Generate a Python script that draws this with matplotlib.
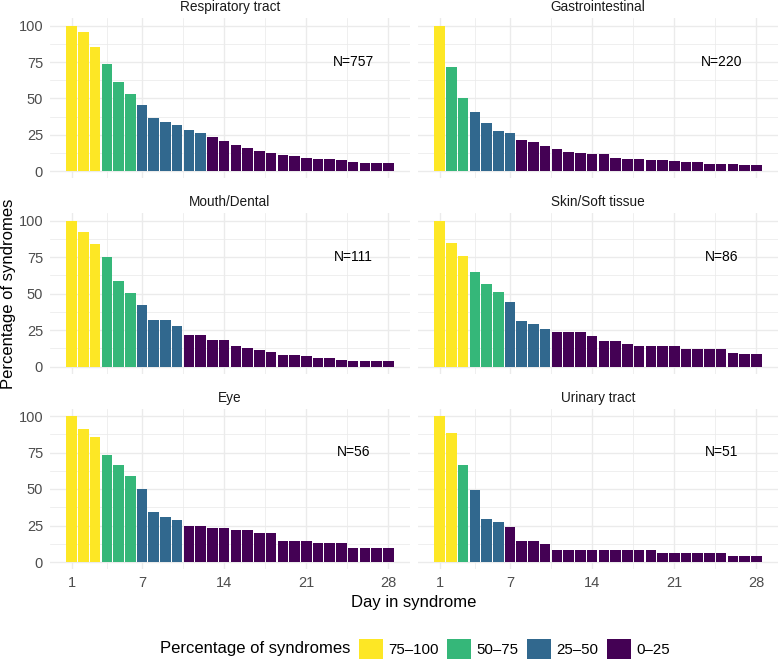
import numpy as np
import matplotlib.pyplot as plt
from matplotlib.patches import Patch

plt.rcParams['font.family'] = ['Liberation Sans', 'DejaVu Sans']

# Data: percentage of syndromes still ongoing on each day
days = np.arange(1, 29)

respiratory = [100, 95.6, 85.5, 73.6, 61.0, 52.8, 45.6, 36.5, 34.0, 31.4, 28.2, 25.9, 23.4, 20.6,
               17.7, 16.0, 13.8, 12.6, 11.0, 10.1, 8.7, 8.0, 8.0, 7.6, 6.4, 5.7, 5.7, 5.5]
gastro = [100, 71.3, 50.5, 40.8, 33.0, 27.3, 25.9, 21.3, 19.7, 17.0, 14.9, 13.3, 12.4, 11.9,
          11.9, 9.2, 8.3, 8.3, 7.6, 7.3, 6.9, 6.4, 6.0, 5.0, 5.0, 4.6, 4.1, 4.1]
mouth = [100, 92.5, 83.8, 74.9, 58.4, 50.5, 42.5, 31.7, 31.7, 28.1, 21.7, 21.7, 18.0, 18.0,
         13.9, 12.8, 11.2, 10.0, 8.2, 8.2, 7.5, 5.7, 5.7, 4.8, 3.9, 3.9, 3.9, 3.9]
skin = [100, 84.7, 75.6, 65.1, 56.8, 51.1, 44.1, 31.5, 29.2, 25.6, 23.5, 23.5, 23.5, 21.0,
        17.6, 17.6, 15.3, 13.9, 13.9, 13.9, 13.9, 11.9, 11.9, 11.9, 11.9, 9.6, 8.4, 8.4]
eye = [100, 91.1, 85.6, 73.3, 66.2, 59.1, 50.0, 34.2, 30.8, 28.8, 25.0, 25.0, 23.5, 23.5,
       21.7, 21.7, 19.9, 19.9, 14.6, 14.6, 14.6, 12.8, 12.8, 12.8, 9.4, 9.4, 9.4, 9.4]
urinary = [100, 88.4, 66.7, 49.3, 29.7, 27.6, 23.7, 14.2, 14.2, 12.1, 8.0, 8.0, 8.0, 8.0,
           8.0, 8.0, 8.0, 8.0, 8.0, 6.2, 6.2, 6.2, 6.2, 6.2, 6.2, 4.3, 4.3, 4.3]

titles = ['Respiratory tract', 'Gastrointestinal', 'Mouth/Dental',
          'Skin/Soft tissue', 'Eye', 'Urinary tract']
n_labels = ['N=757', 'N=220', 'N=111', 'N=86', 'N=56', 'N=51']
series = [respiratory, gastro, mouth, skin, eye, urinary]

bin_labels = ['75\u2013100', '50\u201375', '25\u201350', '0\u201325']
bin_colors = ['#FDE725', '#35B779', '#31688E', '#440154']


def bin_color(v):
    if v > 75:
        return bin_colors[0]
    if v > 50:
        return bin_colors[1]
    if v > 25:
        return bin_colors[2]
    return bin_colors[3]


W, H = 778, 660
fig = plt.figure(figsize=(W / 100, H / 100), dpi=100)

col_x = [(50, 410), (418, 778)]
row_y = [(18.4, 178.3), (213.4, 374.0), (408.7, 569.3)]

grid_col = '#EBEBEB'

for i, (vals, title, nlab) in enumerate(zip(series, titles, n_labels)):
    r, c = divmod(i, 2)
    x0, x1 = col_x[c]
    y0, y1 = row_y[r]
    ax = fig.add_axes([x0 / W, 1 - y1 / H, (x1 - x0) / W, (y1 - y0) / H])
    ax.bar(days, vals, width=0.9, color=[bin_color(v) for v in vals], linewidth=0, zorder=2)
    ax.set_xlim(-0.845, 29.845)
    ax.set_ylim(-5, 105)
    ax.set_xticks([1, 7, 14, 21, 28])
    ax.set_xticks([4, 10.5, 17.5, 24.5], minor=True)
    ax.set_yticks([0, 25, 50, 75, 100])
    ax.set_yticks([12.5, 37.5, 62.5, 87.5], minor=True)
    ax.grid(which='major', color=grid_col, linewidth=1.0, zorder=0)
    ax.grid(which='minor', color=grid_col, linewidth=0.55, zorder=0)
    ax.set_axisbelow(True)
    for s in ax.spines.values():
        s.set_visible(False)
    ax.tick_params(which='both', length=0, labelsize=10.5, labelcolor='#4D4D4D', pad=5)
    if c == 1:
        ax.tick_params(labelleft=False)
    if r < 2:
        ax.tick_params(labelbottom=False)
    ax.set_title(title, fontsize=9.8, color='#1A1A1A', pad=5)
    ax.text(25, 75, nlab, ha='center', va='center', fontsize=10, color='black')

fig.text(0.5 * (50 + 778) / W, 1 - 602 / H, 'Day in syndrome', ha='center', va='center', fontsize=12)
fig.text(9 / W, 1 - 294 / H, 'Percentage of syndromes', rotation=90,
         ha='center', va='center', fontsize=12)

# Legend at bottom with title on the left
fig.text(160 / W, 1 - 649 / H, 'Percentage of syndromes', ha='left', va='center', fontsize=12)
handles = [Patch(facecolor=col, edgecolor='none') for col in bin_colors]
fig.legend(handles, bin_labels, loc='center left', bbox_to_anchor=(359 / W, 1 - 649 / H),
           ncol=4, frameon=False, fontsize=10.8, handlelength=1.6, handleheight=1.6,
           handletextpad=0.33, columnspacing=0.6, borderpad=0, borderaxespad=0)

fig.savefig('out.png', dpi=100)
